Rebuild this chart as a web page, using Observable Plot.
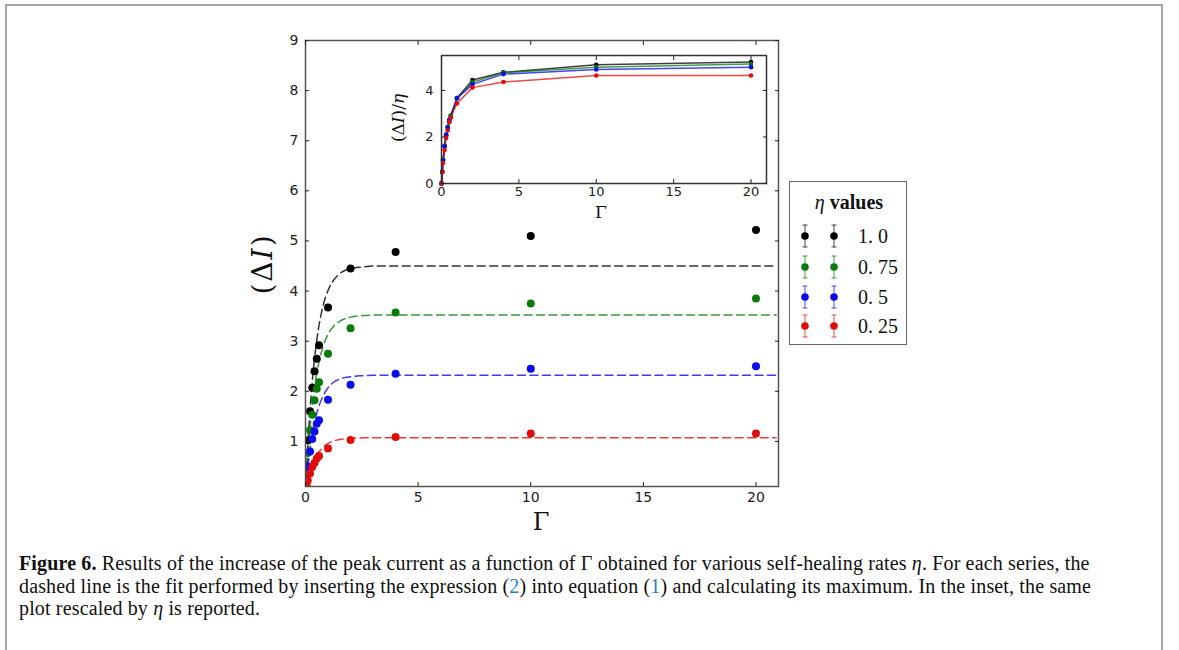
<!DOCTYPE html>
<html>
<head>
<meta charset="utf-8">
<script src="https://cdn.jsdelivr.net/npm/d3@7"></script>
<script src="https://cdn.jsdelivr.net/npm/@observablehq/plot@0.6"></script>
<style>
  html, body { margin: 0; padding: 0; background: #fff; }
  #fig { position: relative; width: 1179px; height: 650px; overflow: hidden; background: #fff; }
  #border { position: absolute; left: 5px; top: 4px; width: 1158px; height: 720px; border: 2px solid #a6a6a6; box-sizing: border-box; }
  .abs { position: absolute; }
  .serif { font-family: "DejaVu Serif", serif; color: #111; }
  .rot { transform: translate(-50%, -50%) rotate(-90deg); white-space: nowrap; }
  .ctr { transform: translate(-50%, -50%); white-space: nowrap; }
  #legend { position: absolute; left: 789px; top: 181px; width: 118px; height: 164px; border: 1.5px solid #666; box-sizing: border-box; background: #fff; }
  #caption { position: absolute; left: 19px; top: 552px; font-family: "Liberation Serif", serif; font-size: 20px; letter-spacing: 0.15px; line-height: 22.5px; color: #111; white-space: nowrap; }
  #caption .ref { color: #1f7fc0; }
</style>
</head>
<body>
<div id="fig">
  <div id="border"></div>
</div>
<script>
// ---------- data ----------
const etaLabels = ["1. 0", "0. 75", "0. 5", "0. 25"];
const etaValues = [1.0, 0.75, 0.5, 0.25];
const seriesColors = ["#000000", "#0a7a0a", "#0a0aee", "#e00c0c"];

const gamma = [0, 0.05, 0.1, 0.2, 0.3, 0.4, 0.5, 0.6, 1, 2, 4, 10, 20];
const dI_100 = [0, 0.50, 1.02, 1.60, 2.07, 2.40, 2.65, 2.92, 3.67, 4.45, 4.78, 5.10, 5.22];
const dI_075 = [0, 0.38, 0.77, 1.22, 1.53, 1.82, 2.05, 2.18, 2.75, 3.26, 3.57, 3.75, 3.85];
const dI_050 = [0, 0.25, 0.50, 0.80, 1.05, 1.20, 1.35, 1.42, 1.83, 2.13, 2.35, 2.45, 2.50];
const dI_025 = [0, 0.12, 0.22, 0.36, 0.49, 0.57, 0.66, 0.71, 0.86, 1.03, 1.09, 1.16, 1.16];

const fitGamma = [0, 0.1, 0.2, 0.3, 0.4, 0.5, 0.75, 1, 1.25, 1.5, 2, 2.5, 3, 4, 20.9];
const fit_100 = [0, 0.90, 1.62, 2.19, 2.65, 3.02, 3.65, 4.01, 4.22, 4.34, 4.45, 4.48, 4.50, 4.50, 4.50];
const fit_075 = [0, 0.70, 1.26, 1.71, 2.07, 2.36, 2.85, 3.14, 3.30, 3.39, 3.48, 3.51, 3.52, 3.52, 3.52];
const fit_050 = [0, 0.46, 0.83, 1.13, 1.37, 1.56, 1.88, 2.07, 2.18, 2.24, 2.29, 2.31, 2.32, 2.32, 2.32];
const fit_025 = [0, 0.21, 0.39, 0.52, 0.63, 0.72, 0.87, 0.96, 1.01, 1.04, 1.06, 1.07, 1.075, 1.075, 1.075];

const xTicks = [0, 5, 10, 15, 20];
const yTicks = [1, 2, 3, 4, 5, 6, 7, 8, 9];
const insetYTicks = [0, 2, 4];

// ---------- tidy tables ----------
const measured = [dI_100, dI_075, dI_050, dI_025];
const fits = [fit_100, fit_075, fit_050, fit_025];
const pointRows = measured.flatMap((vals, i) => vals.map((v, j) => ({s: etaLabels[i], g: gamma[j], v})));
const fitRows = fits.flatMap((vals, i) => vals.map((v, j) => ({s: etaLabels[i], g: fitGamma[j], v})));
const ratioRows = measured.flatMap((vals, i) => vals.map((v, j) => ({s: etaLabels[i], g: gamma[j], v: v / etaValues[i]})));

const colorScale = {domain: etaLabels, range: seriesColors};
const fig = document.getElementById("fig");
const fmt = d => String(d);

// ---------- main chart ----------
const main = Plot.plot({
  width: 560, height: 516,
  marginLeft: 70, marginTop: 20, marginRight: 17, marginBottom: 50,
  x: {domain: [0, 21]},
  y: {domain: [0.1, 9]},
  color: colorScale,
  style: {fontFamily: "DejaVu Sans", fontSize: "14px", color: "#222", background: "transparent", overflow: "visible"},
  marks: [
    Plot.line(fitRows, {x: "g", y: "v", z: "s", stroke: "s", strokeWidth: 1.5, strokeOpacity: 0.8, strokeDasharray: "8,4.5", curve: "monotone-x", clip: true}),
    Plot.dot(pointRows, {x: "g", y: "v", fill: "s", r: 4, clip: true}),
    Plot.frame({stroke: "#555", strokeWidth: 1.5}),
    Plot.axisX({ticks: xTicks, tickSize: -4, tickPadding: 10, tickFormat: fmt, fontSize: 14, fontFamily: "DejaVu Sans", label: null}),
    Plot.axisX({anchor: "top", ticks: xTicks, tickSize: -4, tickFormat: () => "", label: null}),
    Plot.axisY({ticks: yTicks, tickSize: -4, tickPadding: 11, tickFormat: fmt, fontSize: 14, fontFamily: "DejaVu Sans", label: null}),
    Plot.axisY({anchor: "right", ticks: yTicks, tickSize: -4, tickFormat: () => "", label: null})
  ]
});
main.style.position = "absolute";
main.style.left = "235px";
main.style.top = "20px";
fig.appendChild(main);

// ---------- inset ----------
const inset = Plot.plot({
  width: 390, height: 165,
  marginLeft: 61, marginTop: 10, marginRight: 4, marginBottom: 27,
  x: {domain: [0, 21]},
  y: {domain: [0, 5.5]},
  color: colorScale,
  style: {fontFamily: "DejaVu Sans", fontSize: "13px", color: "#222", background: "transparent", overflow: "visible"},
  marks: [
    Plot.frame({fill: "white"}),
    Plot.line(ratioRows, {x: "g", y: "v", z: "s", stroke: "s", strokeWidth: 1.5, strokeOpacity: 0.75}),
    Plot.dot(ratioRows, {x: "g", y: "v", fill: "s", r: 2.3}),
    Plot.frame({stroke: "#333", strokeWidth: 1.5}),
    Plot.axisX({ticks: xTicks, tickSize: -4, tickPadding: 7, tickFormat: fmt, fontSize: 13, fontFamily: "DejaVu Sans", label: null}),
    Plot.axisX({anchor: "top", ticks: xTicks, tickSize: -4, tickFormat: () => "", label: null}),
    Plot.axisY({ticks: insetYTicks, tickSize: -4, tickPadding: 12, tickFormat: fmt, fontSize: 13, fontFamily: "DejaVu Sans", label: null}),
    Plot.axisY({anchor: "right", ticks: insetYTicks, tickSize: -4, tickFormat: () => "", label: null})
  ]
});
inset.style.position = "absolute";
inset.style.left = "380px";
inset.style.top = "45px";
fig.appendChild(inset);

// ---------- axis titles ----------
function addText(html, x, y, cls, size, extra) {
  const d = document.createElement("div");
  d.className = "abs serif " + cls;
  d.style.left = x + "px";
  d.style.top = y + "px";
  d.style.fontSize = size + "px";
  if (extra) Object.assign(d.style, extra);
  d.innerHTML = html;
  fig.appendChild(d);
}
addText("(&Delta;<i>I</i>)", 262, 264, "rot", 28, {letterSpacing: "2px"});
addText("&Gamma;", 541, 522, "ctr", 24);
addText("(&Delta;<i>I</i>)/<i>&eta;</i>", 398, 118, "rot", 17);
addText("&Gamma;", 601, 212, "ctr", 17);

// ---------- legend ----------
const legend = document.createElement("div");
legend.id = "legend";
fig.appendChild(legend);
const title = document.createElement("div");
title.className = "abs ctr";
title.style.cssText += "left:59px;top:20px;font-family:'Liberation Serif',serif;font-size:20px;color:#111;";
title.innerHTML = "<i>&eta;</i> <b>values</b>";
legend.appendChild(title);
const lsvg = d3.select(legend).append("svg")
  .attr("width", 116).attr("height", 162)
  .style("position", "absolute").style("left", "0px").style("top", "0px");
const rowY = [54, 85, 115, 144];
etaLabels.forEach((lab, i) => {
  const g = lsvg.append("g").attr("transform", `translate(0,${rowY[i]})`);
  [15, 44].forEach(x => {
    g.append("line").attr("x1", x).attr("x2", x).attr("y1", -11).attr("y2", 11)
      .attr("stroke", seriesColors[i]).attr("stroke-opacity", 0.6).attr("stroke-width", 1.2);
    g.append("line").attr("x1", x - 2.5).attr("x2", x + 2.5).attr("y1", -11).attr("y2", -11)
      .attr("stroke", seriesColors[i]).attr("stroke-opacity", 0.6).attr("stroke-width", 1.2);
    g.append("line").attr("x1", x - 2.5).attr("x2", x + 2.5).attr("y1", 11).attr("y2", 11)
      .attr("stroke", seriesColors[i]).attr("stroke-opacity", 0.6).attr("stroke-width", 1.2);
    g.append("circle").attr("cx", x).attr("cy", 0).attr("r", 3.8).attr("fill", seriesColors[i]);
  });
  g.append("text").attr("x", 68).attr("y", 0).attr("dy", "0.35em")
    .attr("font-family", "Liberation Serif").attr("font-size", 20).attr("fill", "#111")
    .text(lab);
});

// ---------- caption ----------
const cap = document.createElement("div");
cap.id = "caption";
cap.innerHTML =
  "<b>Figure 6.</b> Results of the increase of the peak current as a function of &Gamma; obtained for various self-healing rates <i>&eta;</i>. For each series, the<br>" +
  "dashed line is the fit performed by inserting the expression (<span class='ref'>2</span>) into equation (<span class='ref'>1</span>) and calculating its maximum. In the inset, the same<br>" +
  "plot rescaled by <i>&eta;</i> is reported.";
fig.appendChild(cap);
</script>
</body>
</html>
